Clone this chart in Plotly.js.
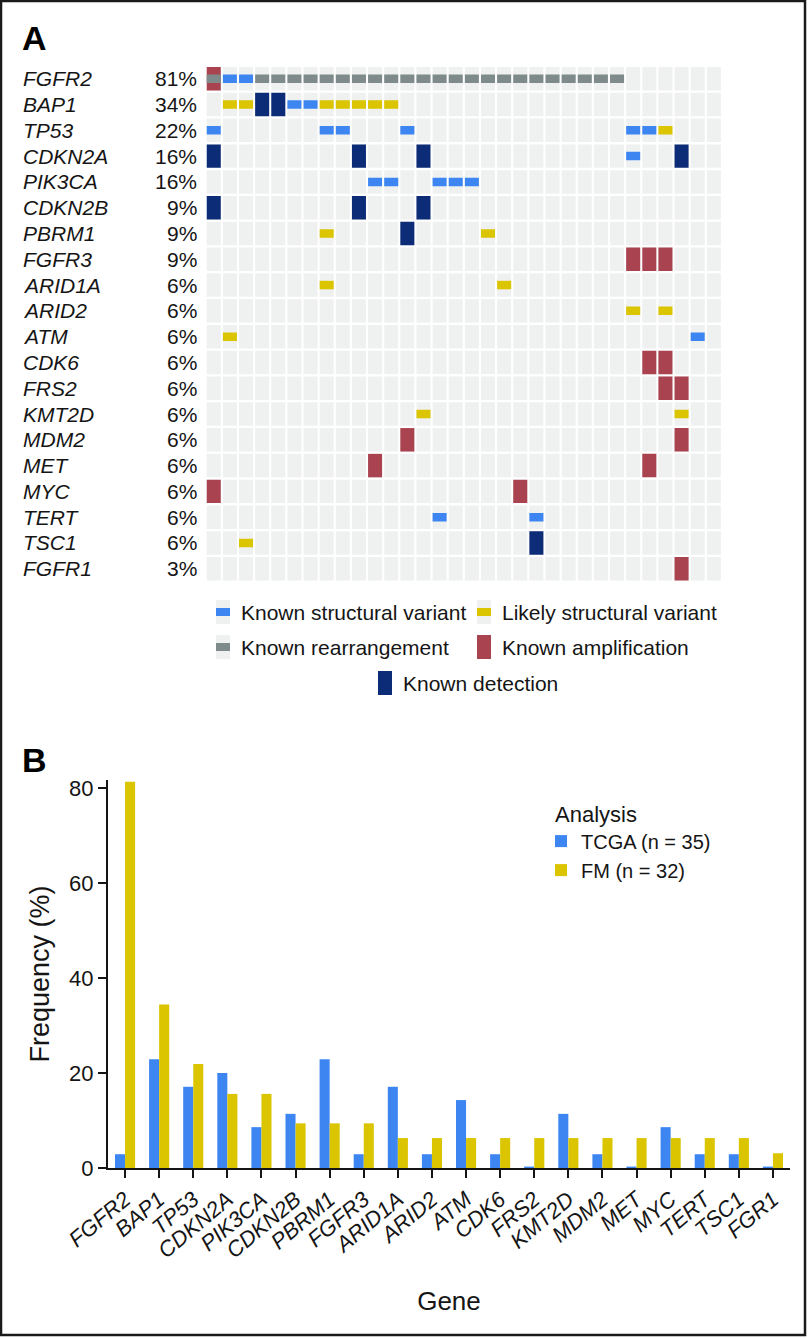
<!DOCTYPE html>
<html>
<head>
<meta charset="utf-8">
<script src="https://cdn.plot.ly/plotly-3.0.1.min.js"></script>
<style>
  html, body { margin: 0; padding: 0; background: #fff; }
  #chart { width: 809px; height: 1338px; }
</style>
</head>
<body>
<div id="chart"></div>
<script>
// ---- Panel A data: genes, percent labels, alterations per patient column (1..32) ----
const oncoGenes = ["FGFR2", "BAP1", "TP53", "CDKN2A", "PIK3CA", "CDKN2B", "PBRM1", "FGFR3", "ARID1A", "ARID2",
                   "ATM", "CDK6", "FRS2", "KMT2D", "MDM2", "MET", "MYC", "TERT", "TSC1", "FGFR1"];
const oncoPct = ["81%", "34%", "22%", "16%", "16%", "9%", "9%", "9%", "6%", "6%",
                 "6%", "6%", "6%", "6%", "6%", "6%", "6%", "6%", "6%", "3%"];
const patientCount = 32;

const knownStructural = { FGFR2: [2, 3], BAP1: [6, 7], TP53: [1, 8, 9, 13, 27, 28], CDKN2A: [27],
                          PIK3CA: [11, 12, 15, 16, 17], ATM: [31], TERT: [15, 21] };
const likelyStructural = { BAP1: [2, 3, 8, 9, 10, 11, 12], TP53: [29], PBRM1: [8, 18], ARID1A: [8, 19],
                           ARID2: [27, 29], ATM: [2], KMT2D: [14, 30], TSC1: [3] };
const knownRearrangement = { FGFR2: [1, 4, 5, 6, 7, 8, 9, 10, 11, 12, 13, 14, 15, 16, 17, 18, 19, 20, 21, 22, 23, 24, 25, 26] };
const knownAmplification = { FGFR2: [1], FGFR3: [27, 28, 29], CDK6: [28, 29], FRS2: [29, 30], MDM2: [13, 30],
                             MET: [11, 28], MYC: [1, 20], FGFR1: [30] };
const knownDetection = { BAP1: [4, 5], CDKN2A: [1, 10, 14, 30], CDKN2B: [1, 10, 14], PBRM1: [13], TSC1: [21] };

// ---- Panel B data ----
const barGenes = ["FGFR2", "BAP1", "TP53", "CDKN2A", "PIK3CA", "CDKN2B", "PBRM1", "FGFR3", "ARID1A", "ARID2",
                  "ATM", "CDK6", "FRS2", "KMT2D", "MDM2", "MET", "MYC", "TERT", "TSC1", "FGR1"];
const tcgaFreq = [2.9, 22.9, 17.1, 20.0, 8.6, 11.4, 22.9, 2.9, 17.1, 2.9, 14.3, 2.9, 0.3, 11.4, 2.9, 0.3, 8.6, 2.9, 2.9, 0.3];
const fmFreq = [81.3, 34.4, 21.9, 15.6, 15.6, 9.4, 9.4, 9.4, 6.3, 6.3, 6.3, 6.3, 6.3, 6.3, 6.3, 6.3, 6.3, 6.3, 6.3, 3.1];

// colours
const BLUE = "#3d86f2", YELLOW = "#dbc400", GREY = "#7f8b8a", RED = "#a8434f", NAVY = "#0d2c77", CELL = "#eff0f0";
const FONT = "Liberation Sans, Arial, Helvetica, sans-serif";
const INK = "#151515";

// pixel -> paper helpers
const W = 809, H = 1338;
const px = x => x / W;
const py = y => 1 - y / H;

const cellW = 0.87;   // column units
const fullH = 0.91;   // row units
const thinH = 0.33;

function cellTrace(xs, bases, h, color) {
    return {
        type: "bar", x: xs, y: xs.map(() => h), base: bases,
        width: cellW, offset: -cellW / 2,
        xaxis: "x2", yaxis: "y2",
        marker: { color: color, line: { width: 0 } },
        showlegend: false, hoverinfo: "skip"
    };
}

function alterationTrace(lookup, color, full) {
    const h = full ? fullH : thinH;
    const xs = [], bases = [];
    oncoGenes.forEach((g, r) => {
        (lookup[g] || []).forEach(c => { xs.push(c); bases.push(r - h / 2); });
    });
    return cellTrace(xs, bases, h, color);
}

// background grid of empty cells
const bgX = [], bgBase = [];
oncoGenes.forEach((g, r) => {
    for (let c = 1; c <= patientCount; c++) { bgX.push(c); bgBase.push(r - fullH / 2); }
});

const traces = [
    cellTrace(bgX, bgBase, fullH, CELL),
    alterationTrace(knownAmplification, RED, true),
    alterationTrace(knownDetection, NAVY, true),
    alterationTrace(knownRearrangement, GREY, false),
    alterationTrace(knownStructural, BLUE, false),
    alterationTrace(likelyStructural, YELLOW, false),
    { type: "bar", name: "TCGA (n = 35)", x: barGenes, y: tcgaFreq, marker: { color: BLUE }, hoverinfo: "skip" },
    { type: "bar", name: "FM (n = 32)", x: barGenes, y: fmFreq, marker: { color: YELLOW }, hoverinfo: "skip" }
];

// row labels for panel A
const annotations = [];
oncoGenes.forEach((g, r) => {
    annotations.push({ xref: "paper", yref: "y2", x: px(21), y: r, text: g, showarrow: false,
        xanchor: "left", yanchor: "middle", font: { family: FONT, size: 21, style: "italic", color: INK } });
    annotations.push({ xref: "paper", yref: "y2", x: px(199), y: r, text: oncoPct[r], showarrow: false,
        xanchor: "right", yanchor: "middle", font: { family: FONT, size: 21, color: INK } });
});

// panel letters
[["A", 38], ["B", 760]].forEach(([t, y]) => {
    annotations.push({ xref: "paper", yref: "paper", x: px(20), y: py(y), text: t, showarrow: false,
        xanchor: "left", yanchor: "middle", font: { family: FONT, size: 34, weight: 700, color: "#000" } });
});

// panel A legend
const shapes = [];
const legendA = [
    { x: 216, y: 612, color: BLUE, full: false, text: "Known structural variant" },
    { x: 477, y: 612, color: YELLOW, full: false, text: "Likely structural variant" },
    { x: 216, y: 647, color: GREY, full: false, text: "Known rearrangement" },
    { x: 477, y: 647, color: RED, full: true, text: "Known amplification" },
    { x: 378, y: 683, color: NAVY, full: true, text: "Known detection" }
];
legendA.forEach(item => {
    shapes.push({ type: "rect", xref: "paper", yref: "paper", x0: px(item.x), x1: px(item.x + 14),
        y0: py(item.y + 12), y1: py(item.y - 12), fillcolor: CELL, line: { width: 0 } });
    const hh = item.full ? 12 : 4;
    shapes.push({ type: "rect", xref: "paper", yref: "paper", x0: px(item.x), x1: px(item.x + 14),
        y0: py(item.y + hh), y1: py(item.y - hh), fillcolor: item.color, line: { width: 0 } });
    annotations.push({ xref: "paper", yref: "paper", x: px(item.x + 23), y: py(item.y), text: item.text,
        showarrow: false, xanchor: "left", yanchor: "middle", font: { family: FONT, size: 21, color: INK } });
});

// outer frame
shapes.push({ type: "rect", xref: "paper", yref: "paper", x0: px(1), x1: px(805), y0: py(1335), y1: py(1),
    line: { color: "#1a1a1a", width: 2.5 }, fillcolor: "rgba(0,0,0,0)" });

const layout = {
    width: W, height: H,
    margin: { l: 0, r: 0, t: 0, b: 0 },
    paper_bgcolor: "#fff", plot_bgcolor: "rgba(0,0,0,0)",
    font: { family: FONT, color: INK },
    barmode: "group", bargap: 0.41, bargroupgap: 0,
    showlegend: true,
    legend: {
        x: px(553), y: py(793), xanchor: "left", yanchor: "top",
        indentation: -12,
        title: { text: "Analysis", font: { family: FONT, size: 22, color: INK } },
        font: { family: FONT, size: 20, color: INK },
        bgcolor: "rgba(0,0,0,0)", traceorder: "normal"
    },
    xaxis: {
        domain: [px(108), px(790)], anchor: "y", type: "category",
        showline: true, linecolor: INK, linewidth: 2, showgrid: false, zeroline: false,
        ticks: "outside", ticklen: 8, tickwidth: 2, tickcolor: INK, tickangle: -40,
        tickfont: { family: FONT, size: 22, style: "italic", color: INK },
        title: { text: "Gene", font: { family: FONT, size: 26, color: INK }, standoff: 30 }
    },
    yaxis: {
        domain: [py(1168), py(779.9)], anchor: "x", range: [0, 81.7],
        tickvals: [0, 20, 40, 60, 80],
        showline: true, linecolor: INK, linewidth: 2, showgrid: false, zeroline: false,
        ticks: "outside", ticklen: 8, tickwidth: 2, tickcolor: INK,
        tickfont: { family: FONT, size: 22, color: INK },
        title: { text: "Frequency (%)", font: { family: FONT, size: 27, color: INK }, standoff: 12 }
    },
    xaxis2: { domain: [px(205.7), px(721.9)], anchor: "y2", range: [0.5, patientCount + 0.5], visible: false },
    yaxis2: { domain: [py(581.65), py(65.85)], anchor: "x2", range: [oncoGenes.length - 0.5, -0.5], visible: false },
    annotations: annotations,
    shapes: shapes
};

Plotly.newPlot("chart", traces, layout, { displayModeBar: false, staticPlot: true });
</script>
</body>
</html>
